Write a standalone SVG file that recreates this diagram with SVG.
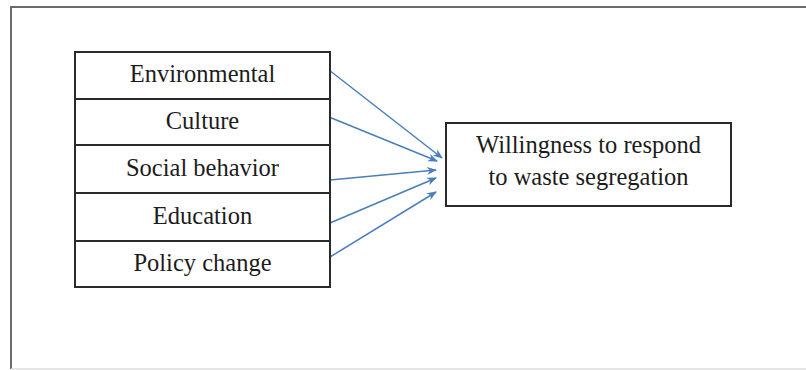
<svg xmlns="http://www.w3.org/2000/svg" width="806" height="370" viewBox="0 0 806 370">
<style>
.box{fill:#fff;stroke:#2a2a2a;stroke-width:2}
.lbl{font-family:"Liberation Serif","Times New Roman",serif;font-size:24.5px;fill:#1c1c1c;text-anchor:middle}
.con{stroke:#4a7ebb;stroke-width:1.5;fill:none;marker-end:url(#ah)}
</style>
<defs>
<marker id="ah" markerWidth="10" markerHeight="8" refX="9" refY="4" orient="auto" markerUnits="userSpaceOnUse">
<path d="M0,0 L10,4 L0,8 L3,4 Z" fill="#4a7ebb"/>
</marker>
</defs>
<rect width="806" height="370" fill="#fff"/>
<g id="frame">
<path d="M11,369 L11,7 L806,7" fill="none" stroke="#6a6a6a" stroke-width="2"/>
<path d="M11,369 L806,369" fill="none" stroke="#dddddd" stroke-width="1.5"/>
</g>
<g id="connectors">
<line class="con" x1="329" y1="70" x2="442" y2="158"/>
<line class="con" x1="329" y1="117" x2="437" y2="161"/>
<line class="con" x1="330" y1="180" x2="436" y2="170"/>
<line class="con" x1="330" y1="223" x2="436" y2="178"/>
<line class="con" x1="330" y1="257" x2="436" y2="192"/>
</g>
<g id="n-environmental"><rect class="box" x="75" y="52" width="255" height="47"/><text class="lbl" x="202.5" y="82">Environmental</text></g>
<g id="n-culture"><rect class="box" x="75" y="99" width="255" height="46"/><text class="lbl" x="202.5" y="129">Culture</text></g>
<g id="n-social"><rect class="box" x="75" y="145" width="255" height="48"/><text class="lbl" x="202.5" y="176">Social behavior</text></g>
<g id="n-education"><rect class="box" x="75" y="193" width="255" height="48"/><text class="lbl" x="202.5" y="224">Education</text></g>
<g id="n-policy"><rect class="box" x="75" y="241" width="255" height="46"/><text class="lbl" x="202.5" y="271">Policy change</text></g>
<g id="n-willingness"><rect class="box" x="446" y="123" width="285" height="83"/><text class="lbl" x="588.5" y="153">Willingness to respond</text><text class="lbl" x="588.5" y="185">to waste segregation</text></g>
</svg>
